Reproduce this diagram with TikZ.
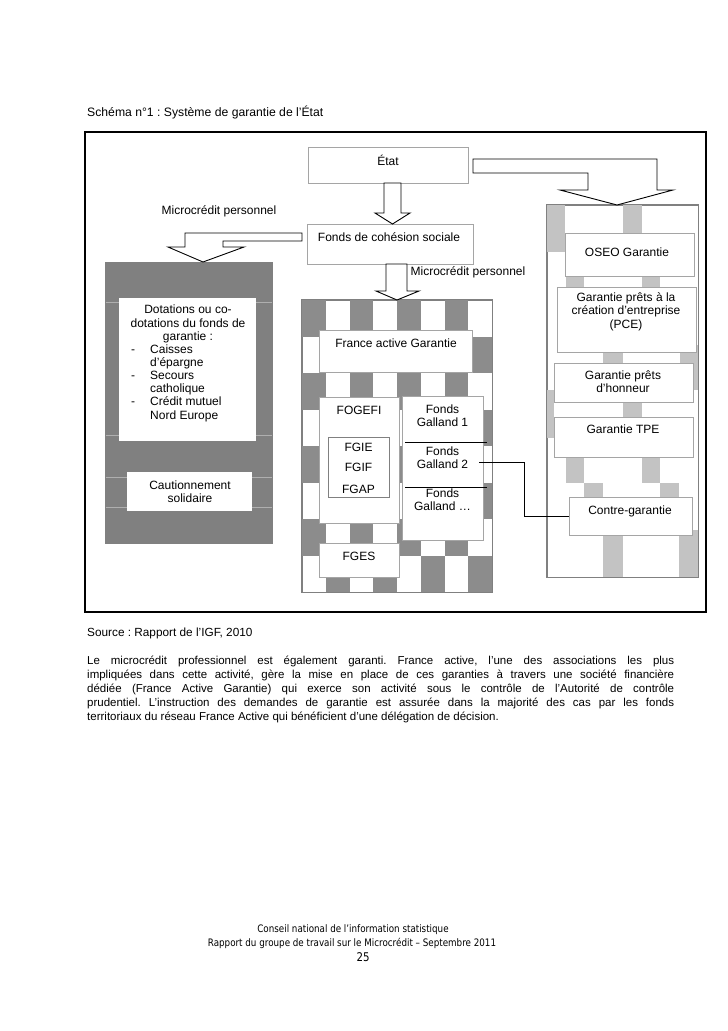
\documentclass[tikz,border=0pt]{standalone}
\usepackage{fontspec}
\setmainfont{Liberation Sans}
\newfontfamily\footfont{DejaVu Sans}[FakeStretch=0.85]
\usetikzlibrary{fit}
\frenchspacing
\definecolor{boxgray}{RGB}{165,165,165}
\definecolor{darkfill}{RGB}{128,128,128}
\definecolor{checkgray}{RGB}{140,140,140}
\definecolor{lightpat}{RGB}{195,195,195}
\definecolor{faint}{RGB}{175,175,175}
\tikzset{
  frame/.style={draw=black, line width=1.1pt},
  gbox/.style={draw=boxgray, fill=white, line width=1pt, inner sep=0pt},
  dbox/.style={draw=gray, fill=white, line width=0.8pt, inner sep=0pt},
  txt/.style={inner sep=0pt, font=\fontsize{12}{13.3}\selectfont, align=center},
  item/.style={inner sep=0pt, font=\fontsize{12}{13.3}\selectfont, anchor=base west},
  blockarrow/.style={draw=black, fill=white, line width=0.9pt, line join=miter},
  link/.style={draw=black, line width=0.9pt},
}
\begin{document}
\frenchspacing
\begin{tikzpicture}[x=1pt,y=-1pt]
\useasboundingbox[fill=white] (0,0) rectangle (728,1031);

% title
\node[txt, anchor=west, font=\frenchspacing\fontsize{12.2}{14}\selectfont] (title) at (87,112) {Schéma n°1 : Système de garantie de l’État};

% outer frame
\node[frame, inner sep=0pt, fit={(85,132) (706,612)}] (frame) {};

% ---------- left dark box ----------
\node[draw=gray, fill=darkfill, line width=0.8pt, inner sep=0pt, fit={(105,262) (272,543)}] (left) {};
\foreach \yy in {302,435,477,507} \draw[faint, line width=0.6pt] (105.5,\yy) -- (271.5,\yy);
\node[draw=none, fill=white, inner sep=0pt, fit={(119,298) (256,441)}] (dot) {};
\node[draw=none, fill=white, inner sep=0pt, fit={(127,472) (252,511)}] (caut) {};
\node[txt] (t-dot) at (188,324) {Dotations ou co-\\dotations du fonds de\\garantie :};
\node[item] (d1) at (131,353.5) {-};
\node[item] (i1) at (150,353.5) {Caisses};
\node[item] (i1b) at (150,366.6) {d’épargne};
\node[item] (d2) at (131,379.7) {-};
\node[item] (i2) at (150,379.7) {Secours};
\node[item] (i2b) at (150,392.8) {catholique};
\node[item] (d3) at (131,405.9) {-};
\node[item] (i3) at (150,405.9) {Crédit mutuel};
\node[item] (i3b) at (150,419) {Nord Europe};
\node[txt, font=\fontsize{12}{13}\selectfont] (t-caut) at (190,491.5) {Cautionnement\\solidaire};

% ---------- middle checkered box ----------
\node[draw=gray, fill=white, line width=0.8pt, inner sep=0pt, fit={(302,300) (492,592)}] (mid) {};
\foreach \r in {0,...,7}
  \foreach \c in {0,...,7} {
    \pgfmathtruncatemacro\p{mod(\r+\c,2)}
    \ifnum\p=0
      \fill[checkgray] ({302+23.75*\c},{300+36.5*\r}) rectangle ++(23.75,36.5);
    \fi
  }
\draw[gray, line width=0.8pt] (mid.north west) rectangle (mid.south east);
\node[gbox, fit={(319,330) (472,372)}] (fag) {};
\node[gbox, fit={(319,397) (399,523)}] (fogefi) {};
\node[dbox, fit={(328,437) (389,497)}] (fgi) {};
\node[gbox, fit={(402,396) (483,540)}] (galland) {};
\node[gbox, fit={(319,543) (399,577)}] (fges) {};
\node[txt] (t-fag) at (396,343) {France active Garantie};
\node[txt] (t-fogefi) at (359,410) {FOGEFI};
\node[txt] (t-fgie) at (358.5,447) {FGIE};
\node[txt] (t-fgif) at (358.5,467.5) {FGIF};
\node[txt] (t-fgap) at (358.5,489) {FGAP};
\node[txt] (t-g1) at (442.5,416) {Fonds\\Galland 1};
\node[txt] (t-g2) at (442.5,458) {Fonds\\Galland 2};
\node[txt] (t-g3) at (442.5,500) {Fonds\\Galland …};
\node[txt] (t-fges) at (359,556) {FGES};
\coordinate (sep1a) at (405,442); \coordinate (sep1b) at (487,442);
\coordinate (sep2a) at (405,487); \coordinate (sep2b) at (487,487);
\draw[link] (sep1a) -- (sep1b);
\draw[link] (sep2a) -- (sep2b);

% ---------- right box ----------
\node[draw=gray, fill=white, line width=0.8pt, inner sep=0pt, fit={(547,205) (698,577)}] (right) {};
\foreach \a/\b/\cc/\d in {547/205/565/252, 623/205/642/252, 566/276/584/287, 642/276/660/287,
   603/352/623/363, 680/345/698/390, 547/390/554/438, 623/402/642/417,
   566/457/584/483, 584/483/603/497, 642/457/660/483, 660/483/679/497,
   603/535/623/577, 679/530/698/577}
  \fill[lightpat] (\a,\b) rectangle (\cc,\d);
\draw[gray, line width=0.8pt] (right.north west) rectangle (right.south east);
\node[gbox, fit={(565,233) (694,276)}] (oseo) {};
\node[gbox, fit={(557,287) (696,352)}] (pce) {};
\node[gbox, fit={(554,363) (693,402)}] (hon) {};
\node[gbox, fit={(554,417) (693,457)}] (tpe) {};
\node[gbox, fit={(569,497) (692,535)}] (contre) {};
\node[txt] (t-oseo) at (627,252) {OSEO Garantie};
\node[txt, font=\fontsize{12}{13.5}\selectfont] (t-pce) at (626,311.5) {Garantie prêts à la\\création d’entreprise\\(PCE)};
\node[txt, font=\fontsize{12}{13}\selectfont] (t-hon) at (623,381.5) {Garantie prêts\\d’honneur};
\node[txt] (t-tpe) at (623,429) {Garantie TPE};
\node[txt] (t-contre) at (630,511) {Contre-garantie};

% connector Galland 2 -> Contre-garantie
\coordinate (g2out) at (479,462);
\coordinate (bend) at (524,462);
\draw[link] (g2out) -- (bend) |- (contre.west);

% ---------- top boxes ----------
\node[gbox, fit={(308,147) (468,183)}] (etat) {};
\node[gbox, fit={(307,224) (473,264)}] (fcs) {};
\node[txt] (t-etat) at (388,160) {État};
\node[txt] (t-fcs) at (389,237) {Fonds de cohésion sociale};
\node[txt] (t-mp1) at (219,211) {Microcrédit personnel};
\node[txt] (t-mp2) at (468,272) {Microcrédit personnel};

% ---------- block arrows ----------
% Etat -> Fonds de cohesion sociale
\draw[blockarrow] (384,183) -- (384,213) -- (375,213) -- (392.5,224) -- (410,213) -- (401,213) -- (401,183) -- cycle;
% Etat -> OSEO (bent)
\draw[blockarrow] (473,159) -- (657,159) -- (657,190) -- (673,190) -- (617,205) -- (560,190) -- (588,190) -- (588,173) -- (473,173) -- cycle;
% Fonds -> left box
\draw[blockarrow] (302,233) -- (185,233) -- (185,247) -- (168,247) -- (203,262) -- (244,247) -- (223,247) -- (223,241) -- (302,241) -- cycle;
% Fonds -> France active
\draw[blockarrow] (386,264) -- (386,291) -- (376,291) -- (397,300) -- (419,291) -- (407,291) -- (407,264) -- cycle;

% ---------- text below ----------
\node[txt, anchor=west, font=\frenchspacing\fontsize{11.8}{14}\selectfont] (source) at (87,633) {Source : Rapport de l’IGF, 2010};
\node[inner sep=0pt, anchor=north west, align=left, font=\frenchspacing\fontsize{11.5}{14}\selectfont] (body) at (87,656)
 {\makebox[587pt][s]{Le microcrédit professionnel est également garanti. France active, l’une des associations les plus}\\
  \makebox[587pt][s]{impliquées dans cette activité, gère la mise en place de ces garanties à travers une société financière}\\
  \makebox[587pt][s]{dédiée (France Active Garantie) qui exerce son activité sous le contrôle de l’Autorité de contrôle}\\
  \makebox[587pt][s]{prudentiel. L’instruction des demandes de garantie est assurée dans la majorité des cas par les fonds}\\
  territoriaux du réseau France Active qui bénéficient d’une délégation de décision.};

% ---------- footer ----------
\node[inner sep=0pt, font=\footfont\fontsize{10.3}{12}\selectfont] (foot1) at (353,930) {Conseil national de l’information statistique};
\node[inner sep=0pt, font=\footfont\fontsize{10.3}{12}\selectfont] (foot2) at (352,943) {Rapport du groupe de travail sur le Microcrédit – Septembre 2011};
\node[inner sep=0pt, font=\footfont\fontsize{12}{14}\selectfont] (foot3) at (363,957) {25};
\end{tikzpicture}
\end{document}
